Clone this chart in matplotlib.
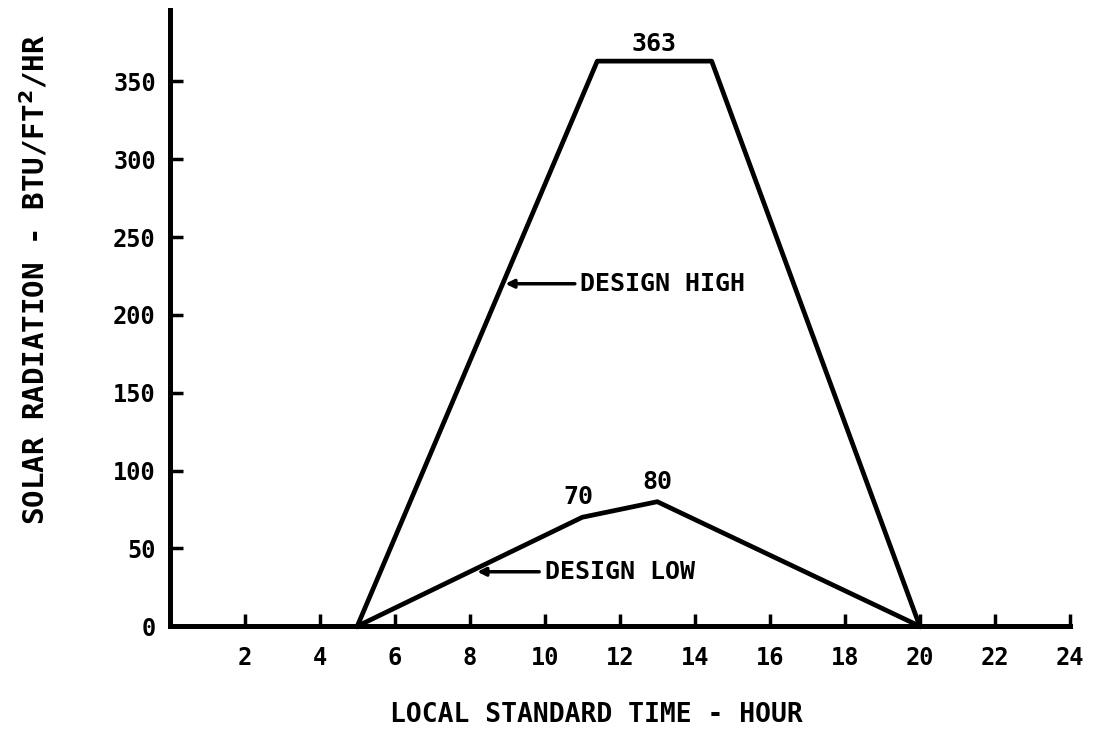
import matplotlib
matplotlib.use("Agg")
import matplotlib.pyplot as plt

# hourly solar radiation design curves
high_hours = [5, 11.4, 14.45, 20]
high_vals = [0, 363, 363, 0]
low_hours = [5, 11, 13, 20]
low_vals = [0, 70, 80, 0]

xticks = [2, 4, 6, 8, 10, 12, 14, 16, 18, 20, 22, 24]
yticks = [0, 50, 100, 150, 200, 250, 300, 350]

plt.rcParams['font.family'] = ['DejaVu Sans Mono']
font = dict(fontweight='bold', fontsize=18)

fig = plt.figure(figsize=(10.95, 7.5), dpi=100)
ax = fig.add_axes([0.155, 0.165, 0.822, 0.822])

lw = 3.4
ax.plot(high_hours, high_vals, color='black', lw=lw, solid_joinstyle='round', clip_on=False)
ax.plot(low_hours, low_vals, color='black', lw=lw, solid_joinstyle='round', clip_on=False)

ax.set_xlim(0, 24)
ax.set_ylim(0, 396)

for side in ['top', 'right']:
    ax.spines[side].set_visible(False)
for side in ['left', 'bottom']:
    ax.spines[side].set_linewidth(3.6)

ax.set_xticks(xticks)
ax.set_yticks(yticks)
ax.tick_params(axis='both', direction='in', length=9, width=2.5, pad=10)
ax.tick_params(axis='x', pad=14)
for lab in ax.get_xticklabels() + ax.get_yticklabels():
    lab.set_fontweight('bold')
    lab.set_fontsize(17)

# peak values
ax.text(12.9, 366, '363', ha='center', va='bottom', **font)
ax.text(10.9, 75, '70', ha='center', va='bottom', **font)
ax.text(13.0, 85, '80', ha='center', va='bottom', **font)

# curve labels with arrows
arrow = dict(arrowstyle='-|>', color='black', lw=2.5, mutation_scale=12,
             shrinkA=2, shrinkB=0)
ax.annotate('DESIGN HIGH', xy=(8.95, 220), xytext=(10.95, 220),
            va='center', ha='left', arrowprops=arrow, **font)
ax.annotate('DESIGN LOW', xy=(8.2, 35), xytext=(10.0, 35),
            va='center', ha='left', arrowprops=arrow, **font)

fig.text(0.545, 0.047, 'LOCAL STANDARD TIME - HOUR', ha='center', va='center',
         fontweight='bold', fontsize=19)
fig.text(0.032, 0.627, 'SOLAR RADIATION - BTU/FT$^{\\mathbf{2}}$/HR', rotation=90,
         ha='center', va='center', fontweight='bold', fontsize=21)

fig.savefig('out.png', dpi=100, facecolor='white')
